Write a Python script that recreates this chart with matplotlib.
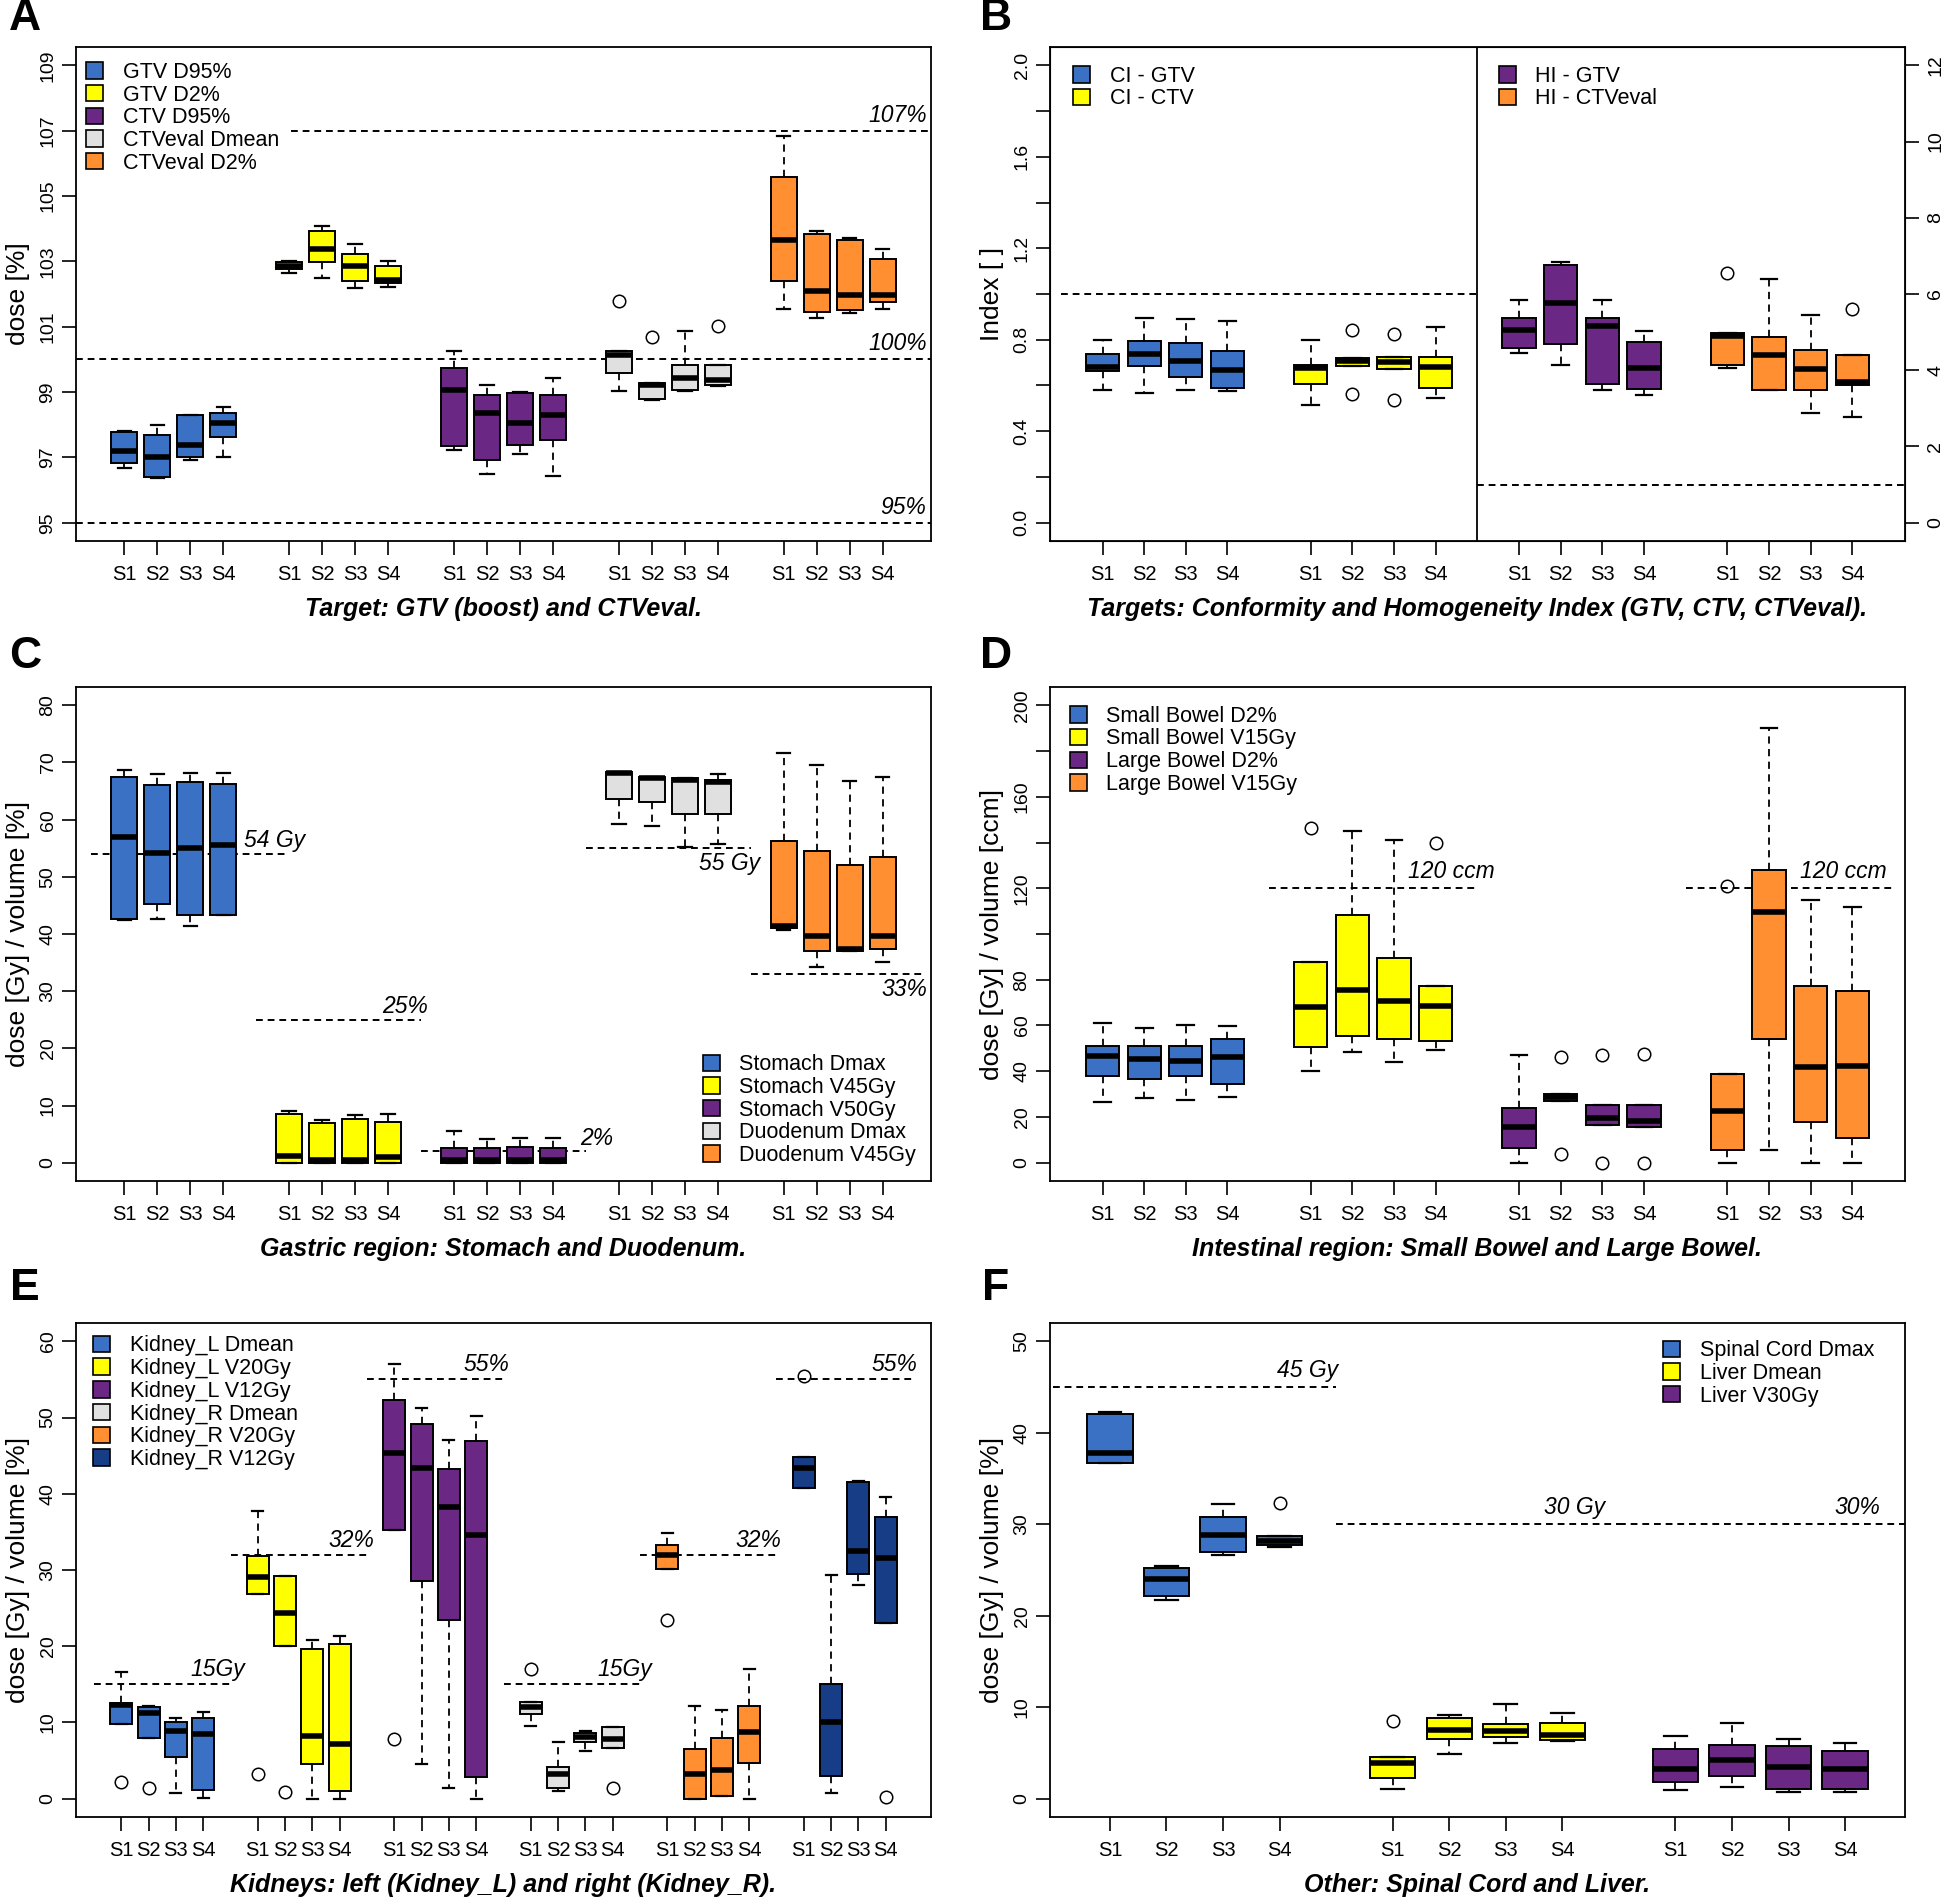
import numpy as np
import matplotlib.pyplot as plt
from matplotlib.patches import Patch

plt.rcParams['font.family'] = ['Liberation Sans', 'DejaVu Sans']

BLUE = '#3B71C4'
YELLOW = '#FFFF00'
PURPLE = '#6B2784'
GREY = '#E0E0E0'
ORANGE = '#FF8F30'
NAVY = '#173D87'

sessions = ['S1', 'S2', 'S3', 'S4']

# each box: (whislo, q1, med, q3, whishi), outliers listed separately

# --- A: target GTV / CTVeval, dose [%]
a_gtv_d95 = [(96.67, 96.82, 97.19, 97.77, 97.81), (96.38, 96.41, 97.0, 97.67, 97.98),
             (96.92, 97.0, 97.37, 98.30, 98.30), (97.0, 97.62, 98.05, 98.35, 98.54)]
a_gtv_d2 = [(102.64, 102.78, 102.87, 102.97, 103.0), (102.5, 102.97, 103.37, 103.94, 104.07),
            (102.17, 102.40, 102.87, 103.21, 103.52), (102.22, 102.34, 102.44, 102.87, 103.02)]
a_ctv_d95 = [(97.21, 97.34, 99.07, 99.72, 100.25), (96.48, 96.92, 98.35, 98.91, 99.2),
             (97.1, 97.37, 98.05, 98.97, 99.0), (96.42, 97.53, 98.30, 98.91, 99.44)]
a_ctveval_dmean = [(99.02, 99.59, 100.12, 100.25, 100.25), (98.77, 98.79, 99.22, 99.29, 99.29),
                   (99.04, 99.07, 99.44, 99.82, 100.87), (99.17, 99.22, 99.38, 99.82, 99.82)]
a_ctveval_dmean_out = [[101.79], [100.69], [], [101.02]]
a_ctveval_d2 = [(101.54, 102.40, 103.65, 105.57, 106.83), (101.27, 101.45, 102.08, 103.84, 103.94),
                (101.42, 101.5, 101.97, 103.65, 103.70), (101.54, 101.74, 101.97, 103.07, 103.37)]
a_labels = ['GTV D95%', 'GTV D2%', 'CTV D95%', 'CTVeval Dmean', 'CTVeval D2%']

# --- B: conformity (left axis) and homogeneity (right axis) index
b_ci_gtv = [(0.582, 0.662, 0.68, 0.738, 0.80), (0.566, 0.685, 0.738, 0.795, 0.897),
            (0.582, 0.635, 0.706, 0.786, 0.892), (0.575, 0.588, 0.667, 0.752, 0.883)]
b_ci_ctv = [(0.513, 0.605, 0.676, 0.69, 0.80), (0.685, 0.685, 0.706, 0.72, 0.72),
            (0.671, 0.671, 0.703, 0.726, 0.726), (0.547, 0.588, 0.68, 0.726, 0.857)]
b_ci_ctv_out = [[], [0.841, 0.561], [0.827, 0.538], []]
b_hi_gtv = [(4.45, 4.58, 5.05, 5.37, 5.85), (4.13, 4.70, 5.77, 6.75, 6.83),
            (3.49, 3.64, 5.16, 5.37, 5.85), (3.36, 3.52, 4.07, 4.74, 5.03)]
b_hi_ctveval = [(4.07, 4.13, 4.89, 4.97, 4.97), (3.49, 3.49, 4.39, 4.87, 6.40),
                (2.88, 3.49, 4.03, 4.54, 5.44), (2.78, 3.60, 3.68, 4.39, 4.39)]
b_hi_ctveval_out = [[6.56], [], [], [5.60]]
b_labels_ci = ['CI - GTV', 'CI - CTV']
b_labels_hi = ['HI - GTV', 'HI - CTVeval']

# --- C: stomach and duodenum
c_stomach_dmax = [(42.4, 42.7, 57.0, 67.4, 68.7), (42.7, 45.2, 54.1, 66.0, 67.9),
                  (41.4, 43.4, 55.1, 66.6, 68.2), (43.4, 43.4, 55.6, 66.3, 68.2)]
c_stomach_v45 = [(0, 0, 1.2, 8.5, 9.1), (0, 0, 0.5, 7.0, 7.4),
                 (0, 0, 0.5, 7.7, 8.3), (0, 0, 1.0, 7.2, 8.5)]
c_stomach_v50 = [(0, 0, 0.5, 2.5, 5.5), (0, 0, 0.5, 2.5, 4.1),
                 (0, 0, 0.5, 2.8, 4.4), (0, 0, 0.5, 2.5, 4.4)]
c_duodenum_dmax = [(59.2, 63.6, 68.1, 68.4, 68.4), (58.9, 63.0, 67.3, 67.5, 67.5),
                   (55.2, 61.0, 66.9, 67.3, 67.3), (55.7, 61.0, 66.6, 66.9, 67.9)]
c_duodenum_v45 = [(40.7, 41.0, 41.4, 56.3, 71.6), (34.3, 37.0, 39.6, 54.5, 69.6),
                  (37.0, 37.0, 37.4, 52.1, 66.8), (35.1, 37.3, 39.6, 53.4, 67.4)]
c_labels = ['Stomach Dmax', 'Stomach V45Gy', 'Stomach V50Gy', 'Duodenum Dmax', 'Duodenum V45Gy']

# --- D: small and large bowel
d_sb_d2 = [(26.6, 37.7, 46.7, 51.2, 61.0), (28.2, 36.8, 45.2, 51.2, 58.9),
           (27.5, 37.7, 44.5, 51.2, 60.0), (28.7, 34.5, 46.0, 54.2, 59.6)]
d_sb_v15 = [(39.9, 50.6, 67.9, 87.6, 87.6), (48.5, 55.3, 75.4, 108.1, 145.1),
            (44.0, 53.9, 70.6, 89.4, 140.9), (49.4, 53.3, 68.6, 77.2, 77.2)]
d_sb_v15_out = [[146.3], [], [], [139.7]]
d_lb_d2 = [(0, 6.3, 15.8, 23.9, 47.0), (26.9, 26.9, 28.7, 30.0, 30.0),
           (16.5, 16.5, 19.7, 25.1, 25.1), (15.8, 15.8, 18.3, 25.1, 25.1)]
d_lb_d2_out = [[], [46.3, 3.6], [47.0, 0.0], [47.6, 0.0]]
d_lb_v15 = [(0, 5.4, 22.4, 39.0, 39.0), (5.4, 54.2, 109.5, 127.8, 190.1),
            (0, 18.0, 41.7, 77.2, 114.9), (0, 10.8, 42.4, 75.0, 112.0)]
d_lb_v15_out = [[121.2], [], [], []]
d_labels = ['Small Bowel D2%', 'Small Bowel V15Gy', 'Large Bowel D2%', 'Large Bowel V15Gy']

# --- E: kidneys
e_kl_dmean = [(9.8, 9.8, 12.3, 12.5, 16.6), (8.0, 8.0, 11.2, 12.0, 12.2),
              (0.8, 5.5, 8.9, 10.0, 10.6), (0.1, 1.2, 8.5, 10.6, 11.4)]
e_kl_dmean_out = [[2.2], [1.4], [], []]
e_kl_v20 = [(26.8, 26.8, 29.1, 31.9, 37.8), (20.0, 20.0, 24.4, 29.2, 29.2),
            (0, 4.5, 8.2, 19.7, 20.8), (0, 1.0, 7.2, 20.3, 21.4)]
e_kl_v20_out = [[3.3], [0.9], [], []]
e_kl_v12 = [(35.3, 35.3, 45.4, 52.3, 57.0), (4.5, 28.5, 43.4, 49.1, 51.2),
            (1.4, 23.4, 38.2, 43.3, 47.0), (0, 2.9, 34.6, 46.9, 50.2)]
e_kl_v12_out = [[7.8], [], [], []]
e_kr_dmean = [(9.5, 11.1, 12.0, 12.7, 12.7), (1.0, 1.4, 3.2, 4.1, 7.4),
              (6.3, 7.4, 8.1, 8.6, 8.9), (6.7, 6.7, 7.8, 9.4, 9.4)]
e_kr_dmean_out = [[17.0], [], [], [1.4]]
e_kr_v20 = [(30.1, 30.1, 32.0, 33.3, 34.9), (0, 0, 3.3, 6.5, 12.2),
            (0.4, 0.4, 3.8, 8.0, 11.7), (0, 4.7, 8.7, 12.1, 17.0)]
e_kr_v20_out = [[23.4], [], [], []]
e_kr_v12 = [(40.8, 40.8, 43.4, 44.8, 44.8), (0.8, 3.0, 10.0, 15.1, 29.3),
            (28.0, 29.5, 32.5, 41.6, 41.7), (23.0, 23.0, 31.6, 36.9, 39.6)]
e_kr_v12_out = [[55.5], [], [], [0.2]]
e_labels = ['Kidney_L Dmean', 'Kidney_L V20Gy', 'Kidney_L V12Gy',
            'Kidney_R Dmean', 'Kidney_R V20Gy', 'Kidney_R V12Gy']

# --- F: spinal cord and liver
f_sc_dmax = [(36.7, 36.7, 37.8, 42.1, 42.3), (21.7, 22.2, 24.0, 25.2, 25.4),
             (26.6, 27.0, 28.8, 30.8, 32.2), (27.5, 27.7, 28.2, 28.7, 28.7)]
f_sc_dmax_out = [[], [], [], [32.3]]
f_liver_dmean = [(1.1, 2.3, 3.9, 4.6, 4.6), (4.9, 6.5, 7.5, 8.8, 9.2),
                 (6.1, 6.7, 7.4, 8.2, 10.3), (6.3, 6.4, 7.0, 8.3, 9.4)]
f_liver_dmean_out = [[8.5], [], [], []]
f_liver_v30 = [(1.0, 1.8, 3.2, 5.4, 6.8), (1.3, 2.5, 4.2, 5.9, 8.3),
               (0.7, 1.1, 3.5, 5.8, 6.5), (0.7, 1.1, 3.2, 5.2, 6.1)]
f_labels = ['Spinal Cord Dmax', 'Liver Dmean', 'Liver V30Gy']

titles = ['Target: GTV (boost) and CTVeval.',
          'Targets: Conformity and Homogeneity Index (GTV, CTV, CTVeval).',
          'Gastric region: Stomach and Duodenum.',
          'Intestinal region: Small Bowel and Large Bowel.',
          'Kidneys: left (Kidney_L) and right (Kidney_R).',
          'Other: Spinal Cord and Liver.']

W, H = 1946, 1900
fig = plt.figure(figsize=(W / 100, H / 100), dpi=100)

DASH = (0, (3.5, 2.5))


def make_ax(left, top, w=855, h=494):
    return fig.add_axes([left / W, 1 - (top + h) / H, w / W, h / H])


def boxes(ax, pos, five, color, outs=None):
    if outs is None:
        outs = [[] for _ in five]
    st = [dict(whislo=w0, q1=q1, med=m, q3=q3, whishi=w1, fliers=f)
          for (w0, q1, m, q3, w1), f in zip(five, outs)]
    ax.bxp(st, positions=pos, widths=0.8, capwidths=0.4, patch_artist=True,
           showfliers=True, manage_ticks=False,
           boxprops=dict(facecolor=color, edgecolor='black', linewidth=1.4),
           medianprops=dict(color='black', linewidth=4.0, solid_capstyle='butt'),
           whiskerprops=dict(color='black', linewidth=1.3, linestyle=(0, (4, 3))),
           capprops=dict(color='black', linewidth=1.6),
           flierprops=dict(marker='o', markerfacecolor='none', markeredgecolor='black',
                           markersize=9, markeredgewidth=1.1))


def style(ax, xlim, ylim, yticks, ylabels, npos_groups, ylab):
    ax.set_xlim(*xlim)
    ax.set_ylim(*ylim)
    xt = [g + i for g in npos_groups for i in range(4)]
    ax.set_xticks(xt)
    ax.set_xticklabels(sessions * len(npos_groups), fontsize=14.5)
    ax.set_yticks(yticks)
    ax.set_yticklabels(ylabels, rotation=90, va='center', fontsize=14)
    ax.tick_params(direction='out', length=10, width=1.2, pad=7)
    ax.tick_params(axis='y', pad=4)
    for s in ax.spines.values():
        s.set_linewidth(1.3)
    if ylab:
        ax.set_ylabel(ylab, fontsize=19)
        # label's lower edge (right side once rotated) sits 46 px left of the spine
        ax.yaxis.set_label_coords(-46 / 855, 0.5)


def legend(ax, labels, colors, anchor, loc='upper left'):
    handles = [Patch(facecolor=c, edgecolor='black', linewidth=1.2) for c in colors]
    ax.legend(handles, labels, loc=loc, bbox_to_anchor=anchor, frameon=False,
              fontsize=15.5, handlelength=0.8, handleheight=0.8, handletextpad=0.9,
              labelspacing=0.08, borderaxespad=0, borderpad=0)


def ref(ax, y, x0, x1):
    ax.plot([x0, x1], [y, y], color='black', linewidth=1.4, linestyle=DASH, zorder=2)


def note(ax, x, y, s, va='bottom'):
    ax.text(x, y, s, fontsize=16.5, style='italic', ha='center', va=va)


def title(ax, s):
    ax.text(0.5, -56 / 494, s, transform=ax.transAxes, ha='center', va='top',
            fontsize=18, weight='bold', style='italic')


# ---------------- A
ax = make_ax(76, 47)
g5 = [1, 6, 11, 16, 21]
ref(ax, 107, 6.05, 25.46)
ref(ax, 100, -0.46, 25.46)
ref(ax, 95, -0.46, 25.46)
boxes(ax, [1, 2, 3, 4], a_gtv_d95, BLUE)
boxes(ax, [6, 7, 8, 9], a_gtv_d2, YELLOW)
boxes(ax, [11, 12, 13, 14], a_ctv_d95, PURPLE)
boxes(ax, [16, 17, 18, 19], a_ctveval_dmean, GREY, a_ctveval_dmean_out)
boxes(ax, [21, 22, 23, 24], a_ctveval_d2, ORANGE)
style(ax, (-0.46, 25.46), (94.44, 109.56), list(range(95, 110, 2)),
      [str(v) for v in range(95, 110, 2)], g5, 'dose [%]')
ax.text(25.35, 107.12, '107%', fontsize=16.5, style='italic', ha='right', va='bottom')
ax.text(25.35, 100.12, '100%', fontsize=16.5, style='italic', ha='right', va='bottom')
ax.text(25.3, 95.12, '95%', fontsize=16.5, style='italic', ha='right', va='bottom')
legend(ax, a_labels, [BLUE, YELLOW, PURPLE, GREY, ORANGE], (0.012, 0.97))
title(ax, titles[0])

# ---------------- B
ax = make_ax(1050, 47)
g4 = [1, 6, 11, 16]
ref(ax, 1.0, 0, 10)
ax.axvline(10, color='black', linewidth=1.3)
boxes(ax, [1, 2, 3, 4], b_ci_gtv, BLUE)
boxes(ax, [6, 7, 8, 9], b_ci_ctv, YELLOW, b_ci_ctv_out)
bt = [round(0.2 * i, 1) for i in range(11)]
style(ax, (-0.26, 20.26), (-0.08, 2.08), bt,
      ['%.1f' % v if i % 2 == 0 else '' for i, v in enumerate(bt)], g4, 'Index [ ]')
legend(ax, b_labels_ci, [BLUE, YELLOW], (0.027, 0.962))
title(ax, titles[1])
tw = ax.twinx()
tw.set_ylim(-0.48, 12.48)
ref(tw, 1.0, 10, 20.26)
boxes(tw, [11, 12, 13, 14], b_hi_gtv, PURPLE)
boxes(tw, [16, 17, 18, 19], b_hi_ctveval, ORANGE, b_hi_ctveval_out)
tw.set_xlim(-0.26, 20.26)
tw.set_yticks(range(0, 13, 2))
tw.set_yticklabels([str(v) for v in range(0, 13, 2)], rotation=90, va='center', fontsize=14)
tw.tick_params(direction='out', length=10, width=1.2, pad=6)
legend(tw, b_labels_hi, [PURPLE, ORANGE], (0.525, 0.962))

# ---------------- C
ax = make_ax(76, 687)
ref(ax, 54, 0, 6)
ref(ax, 25, 5, 10)
ref(ax, 2, 10, 15)
ref(ax, 55, 15, 20)
ref(ax, 33, 20, 25.2)
boxes(ax, [1, 2, 3, 4], c_stomach_dmax, BLUE)
boxes(ax, [6, 7, 8, 9], c_stomach_v45, YELLOW)
boxes(ax, [11, 12, 13, 14], c_stomach_v50, PURPLE)
boxes(ax, [16, 17, 18, 19], c_duodenum_dmax, GREY)
boxes(ax, [21, 22, 23, 24], c_duodenum_v45, ORANGE)
style(ax, (-0.46, 25.46), (-3.2, 83.2), list(range(0, 81, 10)),
      [str(v) for v in range(0, 81, 10)], g5, 'dose [Gy] / volume [%]')
note(ax, 5.56, 54.3, '54 Gy')
note(ax, 9.52, 25.3, '25%')
note(ax, 15.33, 2.3, '2%')
note(ax, 19.35, 54.4, '55 Gy', va='top')
note(ax, 24.64, 32.3, '33%', va='top')
legend(ax, c_labels, [BLUE, YELLOW, PURPLE, GREY, ORANGE], (0.733, 0.03), loc='lower left')
title(ax, titles[2])

# ---------------- D
ax = make_ax(1050, 687)
ref(ax, 120, 5, 10)
ref(ax, 120, 15, 20)
boxes(ax, [1, 2, 3, 4], d_sb_d2, BLUE)
boxes(ax, [6, 7, 8, 9], d_sb_v15, YELLOW, d_sb_v15_out)
boxes(ax, [11, 12, 13, 14], d_lb_d2, PURPLE, d_lb_d2_out)
boxes(ax, [16, 17, 18, 19], d_lb_v15, ORANGE, d_lb_v15_out)
dt = list(range(0, 201, 20))
style(ax, (-0.26, 20.26), (-8, 208), dt,
      [str(v) if v in (0, 20, 40, 60, 80, 120, 160, 200) else '' for v in dt], g4,
      'dose [Gy] / volume [ccm]')
note(ax, 9.37, 122.5, '120 ccm')
note(ax, 18.77, 122.5, '120 ccm')
legend(ax, d_labels, [BLUE, YELLOW, PURPLE, ORANGE], (0.023, 0.962))
title(ax, titles[3])

# ---------------- E
ax = make_ax(76, 1323)
g6 = [1, 6, 11, 16, 21, 26]
for x0, yv in zip([0, 5, 10, 15, 20, 25], [15, 32, 55, 15, 32, 55]):
    ref(ax, yv, x0, x0 + 5)
boxes(ax, [1, 2, 3, 4], e_kl_dmean, BLUE, e_kl_dmean_out)
boxes(ax, [6, 7, 8, 9], e_kl_v20, YELLOW, e_kl_v20_out)
boxes(ax, [11, 12, 13, 14], e_kl_v12, PURPLE, e_kl_v12_out)
boxes(ax, [16, 17, 18, 19], e_kr_dmean, GREY, e_kr_dmean_out)
boxes(ax, [21, 22, 23, 24], e_kr_v20, ORANGE, e_kr_v20_out)
boxes(ax, [26, 27, 28, 29], e_kr_v12, NAVY, e_kr_v12_out)
style(ax, (-0.66, 30.66), (-2.4, 62.4), list(range(0, 61, 10)),
      [str(v) for v in range(0, 61, 10)], g6, 'dose [Gy] / volume [%]')
for x, yv, s in zip([4.53, 9.44, 14.39, 19.44, 24.35, 29.33],
                    [15.4, 32.4, 55.4, 15.4, 32.4, 55.4],
                    ['15Gy', '32%', '55%', '15Gy', '32%', '55%']):
    note(ax, x, yv, s)
legend(ax, e_labels, [BLUE, YELLOW, PURPLE, GREY, ORANGE, NAVY], (0.02, 0.975))
title(ax, titles[4])

# ---------------- F
ax = make_ax(1050, 1323)
g3 = [1, 6, 11]
ref(ax, 45, 0, 5)
ref(ax, 30, 5, 10)
ref(ax, 30, 10, 15.06)
boxes(ax, [1, 2, 3, 4], f_sc_dmax, BLUE, f_sc_dmax_out)
boxes(ax, [6, 7, 8, 9], f_liver_dmean, YELLOW, f_liver_dmean_out)
boxes(ax, [11, 12, 13, 14], f_liver_v30, PURPLE)
style(ax, (-0.06, 15.06), (-2, 52), list(range(0, 51, 10)),
      [str(v) for v in range(0, 51, 10)], g3, 'dose [Gy] / volume [%]')
note(ax, 4.49, 45.6, '45 Gy')
note(ax, 9.21, 30.6, '30 Gy')
note(ax, 14.21, 30.6, '30%')
legend(ax, f_labels, [BLUE, YELLOW, PURPLE], (0.717, 0.965))
title(ax, titles[5])

for lab, x, y in zip('ABCDEF', [25, 996, 25, 996, 25, 996], [19, 19, 657, 657, 1289, 1289]):
    fig.text(x / W, 1 - y / H, lab, fontsize=32, weight='bold', ha='center', va='center')

fig.savefig('out.png', dpi=100)
